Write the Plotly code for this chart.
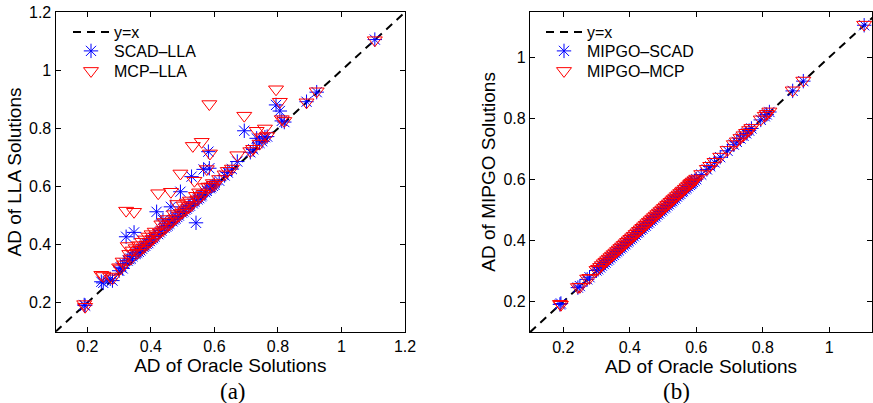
import plotly.graph_objects as go

# ---- data ----
oracle = [0.190, 0.193, 0.244, 0.250, 0.272, 0.279, 0.300, 0.305, 0.311, 0.316,
          0.322, 0.327, 0.332, 0.337, 0.342, 0.347, 0.352, 0.357, 0.362, 0.367,
          0.372, 0.377, 0.382, 0.387, 0.392, 0.397, 0.402, 0.407, 0.412, 0.418,
          0.423, 0.428, 0.433, 0.438, 0.443, 0.448, 0.453, 0.458, 0.463, 0.468,
          0.473, 0.478, 0.483, 0.488, 0.493, 0.498, 0.503, 0.508, 0.513, 0.518,
          0.523, 0.528, 0.532, 0.537, 0.542, 0.547, 0.552, 0.557, 0.560, 0.566,
          0.571, 0.576, 0.581, 0.584, 0.586, 0.590, 0.595, 0.600, 0.615, 0.632,
          0.642, 0.655, 0.672, 0.694, 0.713, 0.722, 0.733, 0.742, 0.750, 0.759,
          0.766, 0.794, 0.806, 0.812, 0.820, 0.890, 0.922, 1.105]

scad_lla = [0.192, 0.190, 0.272, 0.268, 0.282, 0.276, 0.310, 0.322, 0.318, 0.335,
            0.427, 0.345, 0.350, 0.352, 0.360, 0.442, 0.368, 0.372, 0.375, 0.380,
            0.386, 0.392, 0.396, 0.402, 0.405, 0.412, 0.418, 0.422, 0.428, 0.513,
            0.436, 0.442, 0.448, 0.485, 0.458, 0.462, 0.466, 0.472, 0.530, 0.480,
            0.486, 0.490, 0.495, 0.500, 0.582, 0.510, 0.514, 0.520, 0.524, 0.530,
            0.534, 0.634, 0.542, 0.548, 0.475, 0.556, 0.560, 0.566, 0.570, 0.659,
            0.580, 0.585, 0.720, 0.663, 0.594, 0.598, 0.602, 0.606, 0.620, 0.638,
            0.648, 0.660, 0.686, 0.792, 0.718, 0.728, 0.766, 0.750, 0.756, 0.770,
            0.772, 0.881, 0.860, 0.826, 0.822, 0.892, 0.925, 1.106]

mcp_lla = [0.195, 0.186, 0.296, 0.292, 0.290, 0.284, 0.322, 0.318, 0.342, 0.332,
           0.517, 0.395, 0.368, 0.352, 0.380, 0.513, 0.388, 0.372, 0.398, 0.382,
           0.410, 0.390, 0.418, 0.400, 0.428, 0.410, 0.436, 0.420, 0.445, 0.430,
           0.577, 0.442, 0.470, 0.450, 0.478, 0.460, 0.488, 0.470, 0.582, 0.480,
           0.505, 0.490, 0.540, 0.500, 0.645, 0.510, 0.535, 0.518, 0.545, 0.528,
           0.552, 0.536, 0.740, 0.620, 0.568, 0.556, 0.580, 0.566, 0.754, 0.575,
           0.598, 0.660, 0.600, 0.884, 0.714, 0.600, 0.612, 0.606, 0.626, 0.642,
           0.654, 0.662, 0.708, 0.844, 0.722, 0.730, 0.792, 0.748, 0.770, 0.800,
           0.774, 0.935, 0.892, 0.832, 0.826, 0.890, 0.928, 1.104]

mipgo_scad = [0.191, 0.194, 0.246, 0.251, 0.273, 0.280, 0.302, 0.306, 0.312, 0.318,
              0.323, 0.328, 0.334, 0.338, 0.344, 0.349, 0.353, 0.359, 0.364, 0.368,
              0.374, 0.378, 0.384, 0.388, 0.394, 0.398, 0.404, 0.408, 0.414, 0.419,
              0.425, 0.429, 0.435, 0.439, 0.445, 0.449, 0.455, 0.459, 0.465, 0.469,
              0.475, 0.479, 0.485, 0.489, 0.495, 0.499, 0.505, 0.509, 0.515, 0.519,
              0.525, 0.529, 0.534, 0.538, 0.544, 0.549, 0.553, 0.559, 0.562, 0.568,
              0.572, 0.578, 0.582, 0.586, 0.588, 0.592, 0.596, 0.601, 0.616, 0.633,
              0.643, 0.656, 0.673, 0.694, 0.714, 0.723, 0.734, 0.743, 0.751, 0.760,
              0.767, 0.795, 0.807, 0.813, 0.821, 0.890, 0.922, 1.105]

mipgo_mcp = [0.193, 0.190, 0.248, 0.249, 0.276, 0.278, 0.304, 0.308, 0.314, 0.320,
             0.326, 0.331, 0.336, 0.341, 0.346, 0.351, 0.356, 0.361, 0.366, 0.371,
             0.376, 0.381, 0.386, 0.391, 0.396, 0.401, 0.406, 0.411, 0.416, 0.422,
             0.427, 0.432, 0.437, 0.442, 0.447, 0.452, 0.457, 0.462, 0.467, 0.472,
             0.477, 0.482, 0.487, 0.492, 0.497, 0.502, 0.507, 0.512, 0.517, 0.522,
             0.527, 0.532, 0.536, 0.541, 0.546, 0.551, 0.556, 0.561, 0.564, 0.570,
             0.575, 0.580, 0.585, 0.588, 0.590, 0.594, 0.598, 0.603, 0.618, 0.635,
             0.645, 0.658, 0.675, 0.697, 0.716, 0.725, 0.736, 0.745, 0.753, 0.762,
             0.769, 0.797, 0.809, 0.815, 0.823, 0.892, 0.924, 1.107]

diag = [0.1, 1.2]

ticks_a = [0.2, 0.4, 0.6, 0.8, 1.0, 1.2]
ticktext_a = ["0.2", "0.4", "0.6", "0.8", "1", "1.2"]
ticks_b = [0.2, 0.4, 0.6, 0.8, 1.0]
ticktext_b = ["0.2", "0.4", "0.6", "0.8", "1"]

FONT = "Liberation Sans"
W, H = 873, 403

fig = go.Figure()

line_style = dict(color="black", width=2, dash="8px,6px")
star = dict(symbol="asterisk-open", size=12, line=dict(color="blue", width=1), color="blue")
tri = dict(symbol="triangle-down-open", size=13, line=dict(color="red", width=1), color="red")

# panel (a)
fig.add_trace(go.Scatter(x=diag, y=diag, mode="lines", line=line_style, name="y=x",
                         xaxis="x", yaxis="y", legend="legend", showlegend=True))
fig.add_trace(go.Scatter(x=oracle, y=scad_lla, mode="markers", marker=star, name="SCAD–LLA",
                         xaxis="x", yaxis="y", legend="legend2"))
fig.add_trace(go.Scatter(x=oracle, y=mcp_lla, mode="markers", marker=tri, name="MCP–LLA",
                         xaxis="x", yaxis="y", legend="legend3"))
# panel (b)
fig.add_trace(go.Scatter(x=diag, y=diag, mode="lines", line=line_style, name="y=x",
                         xaxis="x2", yaxis="y2", legend="legend4"))
fig.add_trace(go.Scatter(x=oracle, y=mipgo_scad, mode="markers", marker=star, name="MIPGO–SCAD",
                         xaxis="x2", yaxis="y2", legend="legend5"))
fig.add_trace(go.Scatter(x=oracle, y=mipgo_mcp, mode="markers", marker=tri, name="MIPGO–MCP",
                         xaxis="x2", yaxis="y2", legend="legend6"))

axis_common = dict(showline=True, linecolor="black", linewidth=1.3, mirror="ticks",
                   ticks="inside", ticklen=5, tickcolor="black", tickwidth=1,
                   showgrid=False, zeroline=False, automargin=False,
                   tickfont=dict(family=FONT, size=16, color="black"))
title_font = dict(family=FONT, size=19, color="black")


def leg(xpx, ypx):
    return dict(x=xpx / W, y=1 - ypx / H, xanchor="left", yanchor="middle",
                bgcolor="rgba(0,0,0,0)", borderwidth=0, itemwidth=36,
                font=dict(family=FONT, size=16, color="black"))


fig.update_layout(
    width=W, height=H,
    showlegend=True,
    margin=dict(l=0, r=0, t=0, b=0, autoexpand=False),
    paper_bgcolor="white", plot_bgcolor="white",
    font=dict(family=FONT, size=16, color="black"),
    xaxis=dict(domain=[55.6 / W, 405 / W], range=[0.1, 1.2], anchor="y",
               tickvals=ticks_a, ticktext=ticktext_a,
               title=dict(text="AD of Oracle Solutions", font=title_font, standoff=3),
               **axis_common),
    yaxis=dict(domain=[1 - 331.7 / H, 1 - 12.3 / H], range=[0.1, 1.2], anchor="x",
               tickvals=ticks_a, ticktext=ticktext_a,
               title=dict(text="AD of LLA Solutions", font=title_font, standoff=2),
               **axis_common),
    xaxis2=dict(domain=[530 / W, 872 / W], range=[0.1, 0.1 + 342 / 332.5], anchor="y2",
                tickvals=ticks_b, ticktext=ticktext_b,
                title=dict(text="AD of Oracle Solutions", font=title_font, standoff=3),
                **axis_common),
    yaxis2=dict(domain=[1 - 332.2 / H, 1 - 11.5 / H], range=[0.1, 1.15], anchor="x2",
                tickvals=ticks_b, ticktext=ticktext_b,
                title=dict(text="AD of MIPGO Solutions", font=title_font, standoff=2),
                **axis_common),
    legend=leg(68, 32),
    legend2=leg(68, 51),
    legend3=leg(68, 71),
    legend4=leg(541, 32),
    legend5=leg(541, 51),
    legend6=leg(541, 71),
    annotations=[
        dict(text="(a)", x=218 / W, y=1 - 391 / H, xref="paper", yref="paper",
             yanchor="middle", showarrow=False,
             font=dict(family="Liberation Serif", size=23, color="black")),
        dict(text="(b)", x=692 / W, y=1 - 391 / H, xref="paper", yref="paper",
             yanchor="middle", showarrow=False,
             font=dict(family="Liberation Serif", size=23, color="black")),
    ],
)

fig.write_html("out.html", config={"displayModeBar": False},
               post_script="document.body.style.margin='0';document.body.style.overflow='hidden';")
